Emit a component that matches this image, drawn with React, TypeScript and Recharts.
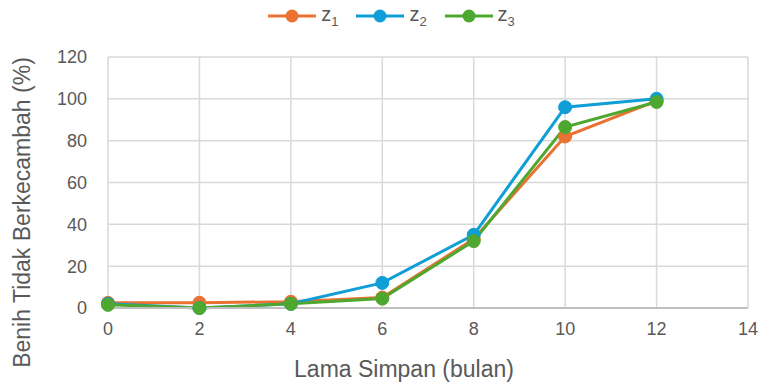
import { LineChart, Line, XAxis, YAxis, CartesianGrid } from "recharts";

const months = [0, 2, 4, 6, 8, 10, 12];
const z1 = [2.5, 2.5, 3, 5, 33, 82, 99];
const z2 = [2, 0, 2, 12, 35, 96, 100];
const z3 = [1.5, 0, 2, 4.5, 32, 86.5, 98.5];
const xTicks = [0, 2, 4, 6, 8, 10, 12, 14];
const yTicks = [0, 20, 40, 60, 80, 100, 120];

const series = [
  { key: "z1", sub: "1", color: "#E97132" },
  { key: "z2", sub: "2", color: "#0F9ED5" },
  { key: "z3", sub: "3", color: "#4EA72E" },
];

const data = months.map((m, i) => ({ month: m, z1: z1[i], z2: z2[i], z3: z3[i] }));

const font = "'Liberation Sans', Arial, sans-serif";
const textColor = "#595959";
const tick = { fill: textColor, fontSize: 18, fontFamily: font };

function LegendRow() {
  return (
    <div
      style={{
        position: "absolute",
        top: 0,
        left: 0,
        width: 761,
        height: 32,
        display: "flex",
        justifyContent: "center",
        alignItems: "center",
        gap: 18,
        fontFamily: font,
        color: textColor,
        fontSize: 20,
        paddingLeft: 22,
        boxSizing: "border-box",
      }}
    >
      {series.map((s) => (
        <div key={s.key} style={{ display: "flex", alignItems: "center" }}>
          <svg width={48} height={14}>
            <line x1={0} y1={7} x2={48} y2={7} stroke={s.color} strokeWidth={3} />
            <circle cx={24} cy={7} r={6.5} fill={s.color} />
          </svg>
          <span style={{ marginLeft: 5 }}>
            z<sub style={{ fontSize: 13 }}>{s.sub}</sub>
          </span>
        </div>
      ))}
    </div>
  );
}

const XLabel = (props: any) => {
  const vb = props.viewBox;
  return (
    <text
      x={vb.x + vb.width / 2 - 24}
      y={vb.y + vb.height - 8}
      textAnchor="middle"
      fill={textColor}
      fontSize={23}
      fontFamily={font}
    >
      Lama Simpan (bulan)
    </text>
  );
};

const YLabel = (props: any) => {
  const vb = props.viewBox;
  const cx = vb.x + 22;
  const cy = vb.y + vb.height / 2 + 30;
  return (
    <text
      x={cx}
      y={cy}
      transform={`rotate(-90, ${cx}, ${cy})`}
      textAnchor="middle"
      dominantBaseline="central"
      fill={textColor}
      fontSize={23}
      fontFamily={font}
    >
      Benih Tidak Berkecambah (%)
    </text>
  );
};

export default function App() {
  return (
    <div style={{ position: "absolute", top: 0, left: 0, width: 761, height: 385, background: "#fff" }}>
      <LegendRow />
      <LineChart
        width={761}
        height={385}
        data={data}
        margin={{ top: 57, right: 13, left: 0, bottom: 0 }}
      >
        <CartesianGrid stroke="#D9D9D9" strokeWidth={1.5} />
        <XAxis
          dataKey="month"
          type="number"
          domain={[0, 14]}
          ticks={xTicks}
          tick={tick}
          tickLine={false}
          axisLine={{ stroke: "#BFBFBF", strokeWidth: 2 }}
          height={77}
          tickMargin={8}
          label={<XLabel />}
        />
        <YAxis
          type="number"
          domain={[0, 120]}
          ticks={yTicks}
          tick={tick}
          tickLine={false}
          axisLine={false}
          width={108}
          tickMargin={15}
          label={<YLabel />}
        />
        {series.map((s) => (
          <Line
            key={s.key}
            dataKey={s.key}
            stroke={s.color}
            strokeWidth={3}
            dot={{ r: 6.5, fill: s.color, stroke: s.color, strokeWidth: 1 }}
            isAnimationActive={false}
          />
        ))}
      </LineChart>
    </div>
  );
}
